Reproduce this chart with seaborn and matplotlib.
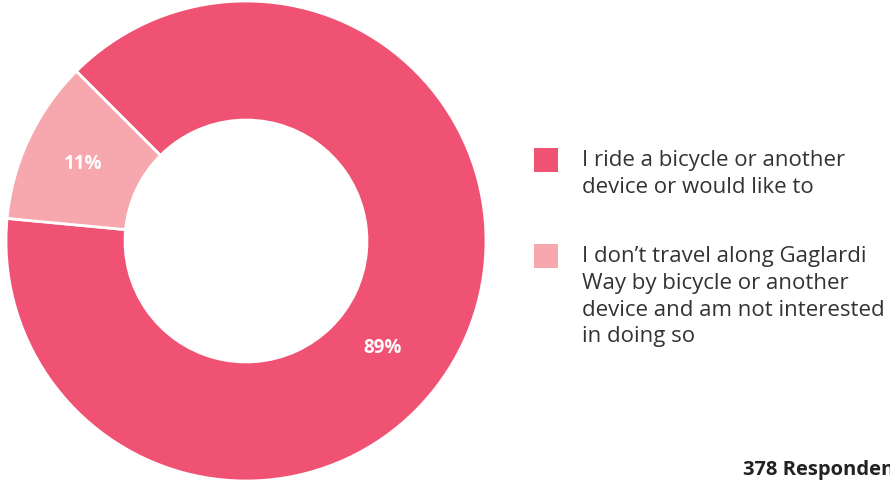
import matplotlib
matplotlib.use("Agg")
import matplotlib.pyplot as plt
from matplotlib.patches import Rectangle
import seaborn as sns

# Survey answers
categories = [
    "I ride a bicycle or another\ndevice or would like to",
    "I don\u2019t travel along Gaglardi\nWay by bicycle or another\ndevice and am not interested\nin doing so",
]
shares = [89, 11]
colors = ["#F05273", "#F6A8AE"]
respondents_note = "378 Respondents"

sns.set_theme(style="white")
plt.rcParams["font.family"] = ["Open Sans", "DejaVu Sans"]

W, H = 890, 482
fig = plt.figure(figsize=(W / 100, H / 100), dpi=100)
fig.patch.set_facecolor("white")

# Donut axes: centre (246, 241) px, radius 240 px
cx, cy, r = 246, 241, 240
ax = fig.add_axes([(cx - r) / W, (H - cy - r) / H, 2 * r / W, 2 * r / H])
wedges, texts, autotexts = ax.pie(
    shares,
    colors=colors,
    startangle=135,
    counterclock=False,
    radius=1.0,
    autopct=lambda p: f"{p:.0f}%",
    pctdistance=0.75,
    wedgeprops=dict(width=0.496, edgecolor="white", linewidth=2),
    textprops=dict(color="white", fontsize=13.5, fontweight="bold"),
)
# move the big slice label towards the lower right
autotexts[0].set_position((0.57, -0.445))
ax.set_xlim(-1, 1)
ax.set_ylim(-1, 1)
ax.set_aspect("equal")
ax.axis("off")

# Legend drawn in pixel positions on the figure
sq = 24
legend_tops = [148, 244]
for lab, col, top in zip(categories, colors, legend_tops):
    fig.patches.append(
        Rectangle(((534) / W, (H - top - sq) / H), sq / W, sq / H,
                  transform=fig.transFigure, facecolor=col, edgecolor="none")
    )
    fig.text(582 / W, (H - top - 2) / H, lab, ha="left", va="top",
             fontsize=16, color="#333333", linespacing=1.36)

fig.text(743 / W, (H - 475) / H, respondents_note, ha="left", va="baseline",
         fontsize=14.5, fontweight="bold", color="#222222")

fig.savefig("out.png", dpi=100, facecolor="white")
